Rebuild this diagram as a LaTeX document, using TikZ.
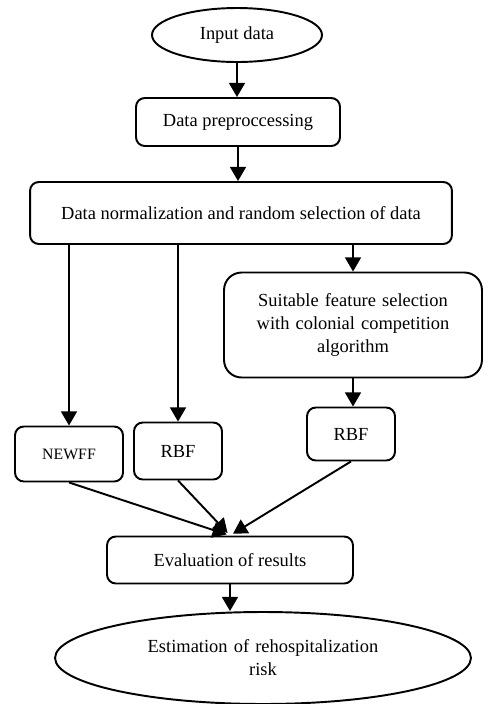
\documentclass[tikz,border=0pt]{standalone}
\usepackage{fontspec}
\setmainfont{Liberation Serif}
\usetikzlibrary{shapes.geometric,arrows.meta}
\begin{document}
\begin{tikzpicture}
  [x=0.02cm,y=-0.02cm,line width=1.1pt,>={Triangle[width=9pt,length=8pt]},
   box/.style={draw,rectangle,rounded corners=5pt,align=center,inner sep=2pt,
     font=\fontsize{10.5}{13}\selectfont},
   oval/.style={draw,ellipse,align=center,inner sep=0pt,
     font=\fontsize{10.5}{13}\selectfont}]
  \useasboundingbox (0,0) rectangle (484,704);
  \node (in)    [oval,minimum width=3.4cm,minimum height=1.08cm] at (237,35) {Input data};
  \node (prep)  [box,minimum width=4.08cm,minimum height=0.96cm] at (238,122) {Data preproccessing};
  \node (norm)  [box,minimum width=8.44cm,minimum height=1.24cm] at (241,213) {Data normalization and random selection of data};
  \node (feat)  [box,rounded corners=10pt,minimum width=5.16cm,minimum height=2.1cm,text width=4.6cm] at (353,325)
    {Suitable feature selection\\with colonial competition\\algorithm};
  \node (newff) [box,minimum width=2.16cm,minimum height=1.1cm,font=\fontsize{9}{11}\selectfont] at (69,454) {NEWFF};
  \node (rbfa)  [box,minimum width=1.76cm,minimum height=1.14cm] at (178,451) {RBF};
  \node (rbfb)  [box,minimum width=1.76cm,minimum height=1.06cm] at (351,434) {RBF};
  \node (eval)  [box,minimum width=4.92cm,minimum height=0.94cm] at (230,560) {Evaluation of results};
  \node (risk)  [oval,minimum width=8.32cm,minimum height=1.84cm,text width=4.8cm] at (263,658)
    {Estimation of rehospitalization\\risk};

\foreach \from/\to in
{in/prep, prep/norm, feat/rbfb, eval/risk}
    \draw[->] (\from.south) -- (\from.south |- \to.north);
\foreach \to in
{newff, rbfa, feat}
    \draw[->] (\to.north |- norm.south) -- (\to.north);
\foreach \from in
{newff, rbfa, rbfb}
    \draw[->,shorten >=2pt] (\from.south) -- (eval.north);
\end{tikzpicture}
\end{document}
